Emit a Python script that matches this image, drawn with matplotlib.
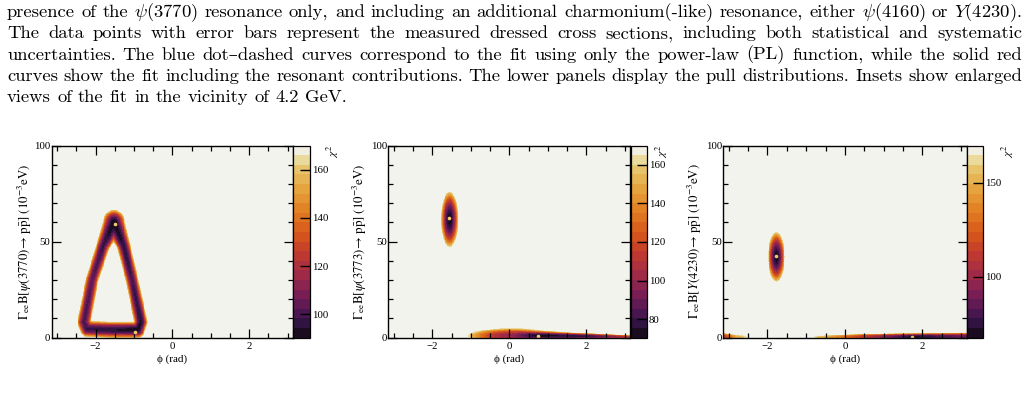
import numpy as np
import matplotlib
matplotlib.use("Agg")
import matplotlib.pyplot as plt
from matplotlib.colors import ListedColormap, BoundaryNorm

W, H = 1027, 401

# ---------------- caption text ----------------
caption = [
    r"presence of the $\psi(3770)$ resonance only, and including an additional charmonium(-like) resonance, either $\psi(4160)$ or $Y(4230)$.",
    r"The data points with error bars represent the measured dressed cross sections, including both statistical and systematic",
    r"uncertainties. The blue dot–dashed curves correspond to the fit using only the power-law (PL) function, while the solid red",
    r"curves show the fit including the resonant contributions. The lower panels display the pull distributions. Insets show enlarged",
    r"views of the fit in the vicinity of 4.2 GeV.",
]

# ---------------- chi2 maps ----------------
# each low-chi2 valley: centre line (phi, Gamma), chi2 along it, half width (scaled units)
p1_ring_phi = [-1.52, -1.27, -1.05, -0.82, -0.90, -1.60, -2.22, -2.30, -2.09, -1.80, -1.52]
p1_ring_gam = [60.0, 48.0, 30.0, 8.0, 4.0, 4.0, 4.5, 8.0, 30.0, 48.0, 60.0]
p1_ring_chi = [90.4, 95.0, 99.0, 94.0, 91.0, 95.0, 98.0, 100.0, 103.0, 97.0, 90.4]
p1_ring_w = [1.55, 0.95, 0.9, 0.95, 1.0, 1.0, 1.0, 0.95, 0.9, 0.95, 1.55]

p2_ell = dict(phi=[-1.55], gam=[61.5], chi=[70.5], w=[1.0])
p2_low = dict(phi=[-0.35, 0.06, 0.73, 2.05, 3.2], gam=[0.3, 1.0, 1.0, 0.6, 0.3],
              chi=[150.0, 100.0, 72.0, 80.0, 110.0], w=[1.0, 3.9, 2.6, 1.7, 0.8])
p3_ell = dict(phi=[-1.77], gam=[42.0], chi=[67.6], w=[1.0])
p3_low = dict(phi=[-0.6, 0.5, 1.75, 3.3], gam=[0.2, 0.4, 0.3, 0.5],
              chi=[150.0, 110.0, 68.5, 90.0], w=[0.8, 1.6, 2.1, 2.3])
p3_wrap = dict(phi=[-3.3, -2.8], gam=[0.5, 0.3], chi=[90.0, 150.0], w=[2.3, 1.0])

best_phi = [[-1.49, -0.98], [-1.57, 0.73], [-1.77, 1.73]]
best_gam = [[58.9, 3.1], [62.2, 1.0], [42.6, 0.3]]

zmin = [90.4, 70.5, 67.6]
zmax = 170.0
cb_ticks = [[100, 120, 140, 160], [80, 100, 120, 140, 160], [100, 150]]
ylabels = [
    r"$\Gamma_{\mathrm{ee}}\mathrm{B}[\psi(3770)\!\rightarrow\,\mathrm{p}\bar{\mathrm{p}}]\ (10^{-3}\mathrm{eV})$",
    r"$\Gamma_{\mathrm{ee}}\mathrm{B}[\psi(3773)\!\rightarrow\,\mathrm{p}\bar{\mathrm{p}}]\ (10^{-3}\mathrm{eV})$",
    r"$\Gamma_{\mathrm{ee}}\mathrm{B}[Y(4230)\!\rightarrow\,\mathrm{p}\bar{\mathrm{p}}]\ (10^{-3}\mathrm{eV})$",
]

band_cols = ['#1a0c1e', '#301340', '#4a1650', '#621a55', '#781e55', '#8c2450', '#9e2a48',
             '#ae313e', '#bd3832', '#c94326', '#d3521e', '#da621c', '#df7420', '#e28426',
             '#e49430', '#e5a43e', '#e6b452', '#e7c46c', '#eadb9c', '#f1eee2']
bg_col = '#f3f3ee'


def valley(PH, GA, phis, gams, chis, ws, sx, sy, top):
    u, v = PH / sx, GA / sy
    pu, pv = np.asarray(phis) / sx, np.asarray(gams) / sy
    best = np.full(PH.shape, np.inf)
    segs = [(0, 0)] if len(pu) == 1 else [(i, i + 1) for i in range(len(pu) - 1)]
    for i, j in segs:
        du, dv = pu[j] - pu[i], pv[j] - pv[i]
        L2 = du * du + dv * dv
        if L2 > 0:
            t = np.clip(((u - pu[i]) * du + (v - pv[i]) * dv) / L2, 0, 1)
        else:
            t = np.zeros_like(u)
        d2 = (u - pu[i] - t * du) ** 2 + (v - pv[i] - t * dv) ** 2
        w = ws[i] + t * (ws[j] - ws[i])
        c = chis[i] + t * (chis[j] - chis[i])
        best = np.minimum(best, c + (top - c) * d2 / w ** 2)
    return best


phi = np.linspace(-np.pi, np.pi, 520)
gam = np.linspace(0, 100, 520)
PH, GA = np.meshgrid(phi, gam)

maps = []
maps.append(valley(PH, GA, p1_ring_phi, p1_ring_gam, p1_ring_chi, p1_ring_w, 0.19, 4.3, zmax))
m2 = valley(PH, GA, p2_ell['phi'], p2_ell['gam'], p2_ell['chi'], p2_ell['w'], 0.23, 14.8, zmax)
m2 = np.minimum(m2, valley(PH, GA, p2_low['phi'], p2_low['gam'], p2_low['chi'], p2_low['w'], 0.3, 1.0, zmax))
maps.append(m2)
m3 = valley(PH, GA, p3_ell['phi'], p3_ell['gam'], p3_ell['chi'], p3_ell['w'], 0.22, 13.3, zmax)
m3 = np.minimum(m3, valley(PH, GA, p3_low['phi'], p3_low['gam'], p3_low['chi'], p3_low['w'], 0.3, 1.0, zmax))
m3 = np.minimum(m3, valley(PH, GA, p3_wrap['phi'], p3_wrap['gam'], p3_wrap['chi'], p3_wrap['w'], 0.3, 1.0, zmax))
maps.append(m3)

fig = plt.figure(figsize=(W / 100, H / 100), dpi=100)


def box(l, t, r, b):
    return [l / W, 1 - b / H, (r - l) / W, (b - t) / H]


ax_px = [(51.7, 293.0, 309.5), (388.3, 630.5, 646.7), (723.3, 966.5, 983.3)]
top_px, bot_px = 145.5, 337.5
ylab_x = [25, 360, 695]
chi_lab_x = [333, 662, 1008]

cmap = ListedColormap(band_cols).with_extremes(over=bg_col)
tick_font = ['Liberation Serif', 'DejaVu Serif']

for k in range(3):
    l, r, cr = ax_px[k]
    ax = fig.add_axes(box(l, top_px, r, bot_px))
    cax = fig.add_axes(box(r, top_px, cr, bot_px))
    levels = np.linspace(zmin[k], zmax, 21)
    norm = BoundaryNorm(levels, ncolors=20)
    mesh = ax.pcolormesh(phi, gam, maps[k], cmap=cmap, norm=norm, shading='auto', rasterized=True)
    ax.plot(best_phi[k], best_gam[k], 'o', ms=2.6, color='#f5c86a', mec='none')
    ax.set_xlim(-np.pi, np.pi)
    ax.set_ylim(0, 100)
    ax.set_xticks([-2, 0, 2])
    ax.set_xticks(np.arange(-3, 3.01, 0.5), minor=True)
    ax.set_yticks([0, 50, 100])
    ax.set_yticks(np.arange(0, 101, 10), minor=True)
    ax.tick_params(which='both', direction='in', top=True, right=True, width=0.9, labelsize=7.8)
    ax.tick_params(which='major', length=6.5)
    ax.tick_params(which='minor', length=3.5)
    ax.tick_params(axis='y', pad=1)
    ax.tick_params(axis='x', pad=3)
    for lab in ax.get_xticklabels() + ax.get_yticklabels():
        lab.set_family(tick_font)
    for s in ax.spines.values():
        s.set_linewidth(1.0)

    cb = fig.colorbar(mesh, cax=cax, ticks=cb_ticks[k])
    cb.outline.set_linewidth(0.9)
    cax.tick_params(direction='in', length=7, width=1.0, labelsize=7.8, pad=1.5)
    cax.minorticks_off()
    for lab in cax.get_yticklabels():
        lab.set_family(tick_font)

    fig.text(ylab_x[k] / W, 1 - 241.5 / H, ylabels[k], rotation=90, ha='center', va='center',
             fontsize=9.3, math_fontfamily='stix')
    fig.text(chi_lab_x[k] / W, 1 - 151 / H, r"$\chi^{2}$", rotation=90, ha='center', va='center',
             fontsize=8.5, math_fontfamily='stix')
    fig.text((l + r) / 2 / W, 1 - 359 / H, "ϕ (rad)", ha='center', va='center',
             fontsize=8.0, family=tick_font)

# ---------------- justified caption ----------------
cap_font = ['cmr10', 'DejaVu Serif']
x0, x1 = 7.0, 1022.0
base0 = 17.0
rend = fig.canvas.get_renderer()

# pick the font size so the widest line fits with slightly tight word spacing
FS0 = 12.0
nat = []
probe = []
for line in caption[:-1]:
    words = line.split(" ")
    ts = [fig.text(0, 0, wd, fontsize=FS0, family=cap_font, math_fontfamily='cm') for wd in words]
    probe += ts
    nat.append(sum(t.get_window_extent(rend).width for t in ts) + 0.333 * FS0 * 100 / 72 * (len(words) - 1))
for t in probe:
    t.remove()
FS = FS0 * (x1 - x0 + 11) / max(nat)

for n, line in enumerate(caption):
    y = 1 - (base0 + 21.3 * n) / H
    words = line.split(" ")
    arts = [fig.text(0, y, wd, fontsize=FS, family=cap_font, math_fontfamily='cm', va='baseline')
            for wd in words]
    widths = [a.get_window_extent(rend).width for a in arts]
    if n == len(caption) - 1:
        gap = 0.333 * FS * 100 / 72
    else:
        gap = (x1 - x0 - sum(widths)) / (len(words) - 1)
    x = x0
    for a, wd in zip(arts, widths):
        a.set_x(x / W)
        x += wd + gap

fig.savefig("out.png", dpi=100)
